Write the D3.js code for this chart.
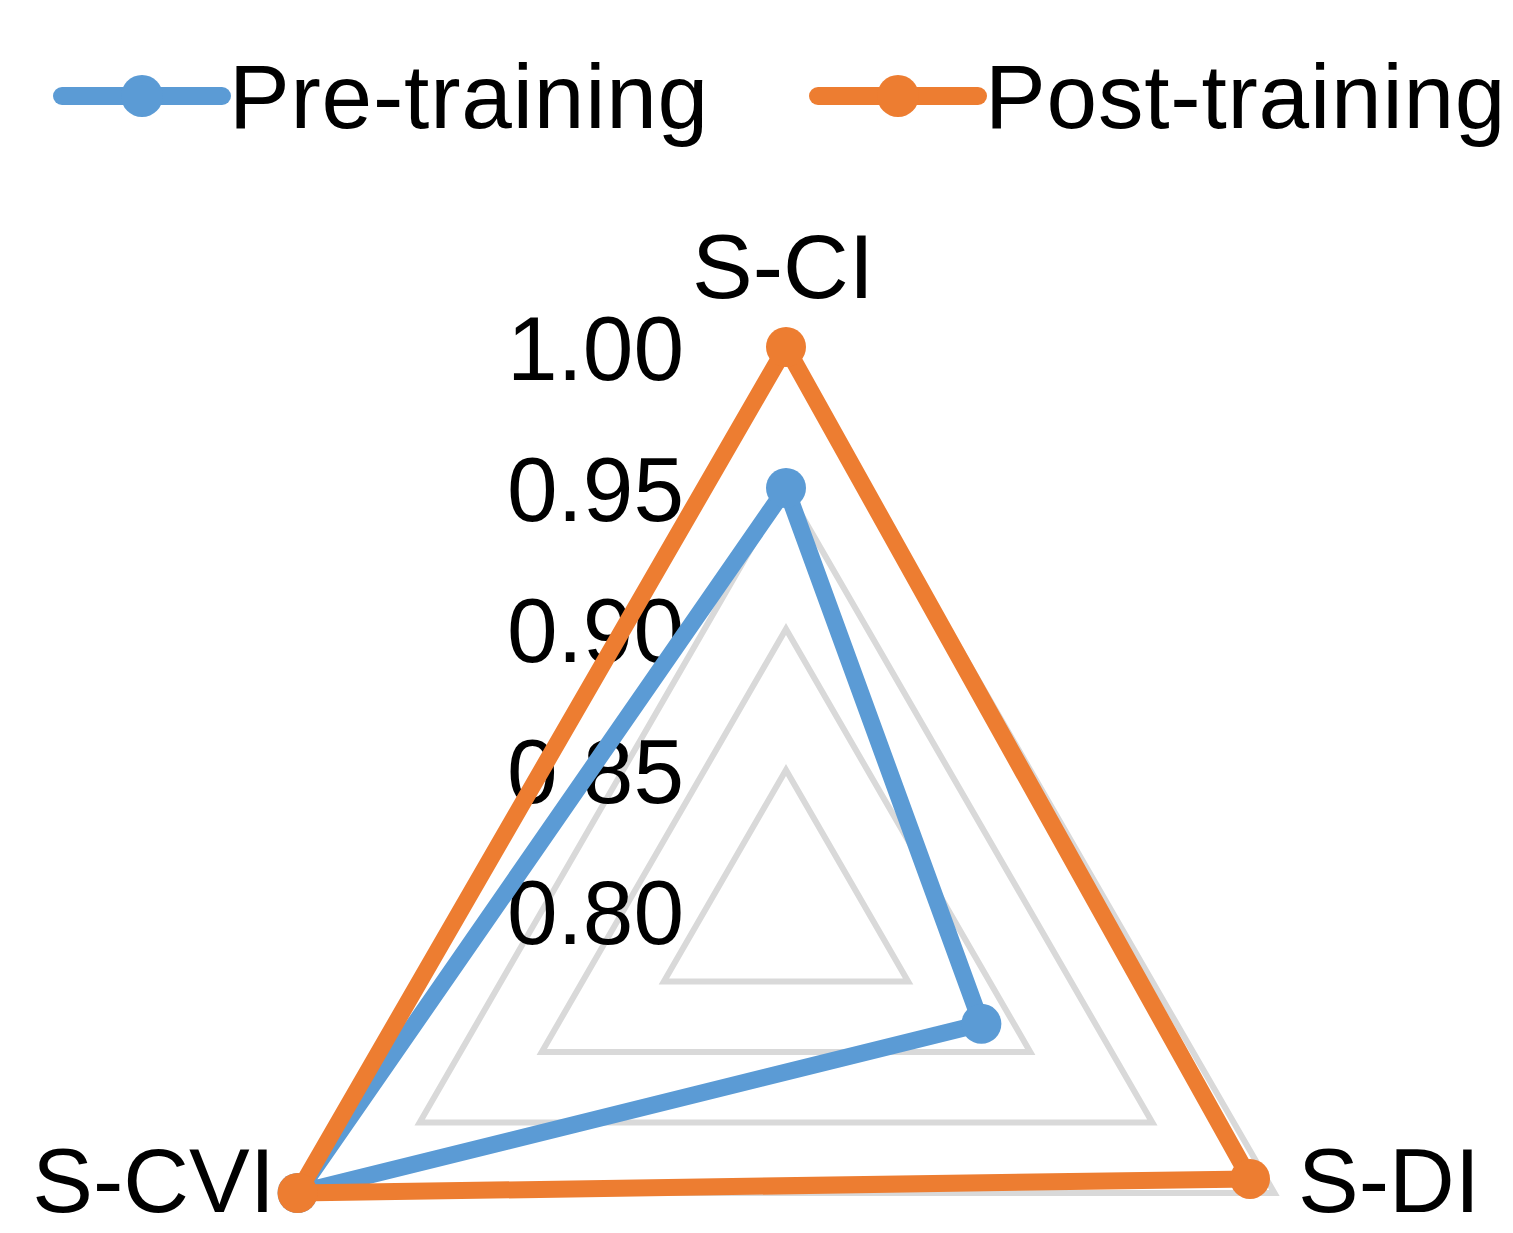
<!DOCTYPE html>
<html>
<head>
<meta charset="utf-8">
<script src="https://cdn.jsdelivr.net/npm/d3@7/dist/d3.min.js"></script>
<style>
  html, body { margin: 0; padding: 0; background: #fff; }
  svg { display: block; }
  text { font-family: "Liberation Sans", Arial, sans-serif; fill: #000; }
</style>
</head>
<body>
<svg id="chart" width="1513" height="1233"></svg>
<script>
// ---- data ----
const categories = ["S-CI", "S-DI", "S-CVI"];
const seriesNames = ["Pre-training", "Post-training"];
const preTraining = [0.95, 0.88, 1.00];
const postTraining = [1.00, 0.99, 1.00];
const tickValues = [0.80, 0.85, 0.90, 0.95, 1.00];
const tickLabels = ["0.80", "0.85", "0.90", "0.95", "1.00"];
const seriesColors = ["#5B9BD5", "#ED7D31"];

// ---- layout ----
const cx = 786, cy = 911;
const R = 564;
const fontSize = 91;

const svg = d3.select("#chart");
const r = d3.scaleLinear().domain([0.80, 1.00]).range([0, R]);
const angle = d3.scalePoint().domain(categories).range([0, 2 * Math.PI * (categories.length - 1) / categories.length]);

const g = svg.append("g").attr("transform", `translate(${cx},${cy})`);

// gridlines (polygons)
const gridLine = d3.lineRadial()
  .angle(d => angle(d.cat))
  .radius(d => r(d.v))
  .curve(d3.curveLinearClosed);

g.append("g").selectAll("path")
  .data(tickValues.filter(v => v > 0.80))
  .join("path")
  .attr("d", v => gridLine(categories.map(c => ({ cat: c, v }))))
  .attr("fill", "none")
  .attr("stroke", "#D9D9D9")
  .attr("stroke-width", 6)
  .attr("stroke-linejoin", "miter");

// tick labels
g.append("g").selectAll("text")
  .data(tickValues)
  .join("text")
  .attr("x", 684 - cx)
  .attr("y", (v) => -r(v) + 33)
  .attr("text-anchor", "end")
  .attr("font-size", fontSize)
  .text((v, i) => tickLabels[i]);

// series
const allSeries = [preTraining, postTraining];
const seriesLine = d3.lineRadial()
  .angle((d, i) => angle(categories[i]))
  .radius(d => r(d))
  .curve(d3.curveLinearClosed);

allSeries.forEach((vals, si) => {
  const sg = g.append("g");
  sg.append("path")
    .attr("d", seriesLine(vals))
    .attr("fill", "none")
    .attr("stroke", seriesColors[si])
    .attr("stroke-width", 17)
    .attr("stroke-linejoin", "round");
  sg.selectAll("circle")
    .data(vals)
    .join("circle")
    .attr("cx", (d, i) => r(d) * Math.sin(angle(categories[i])))
    .attr("cy", (d, i) => -r(d) * Math.cos(angle(categories[i])))
    .attr("r", 20)
    .attr("fill", seriesColors[si]);
});

// category labels
const catPos = {
  "S-CI":  { x: 783, y: 298, anchor: "middle" },
  "S-DI":  { x: 1298, y: 1212, anchor: "start" },
  "S-CVI": { x: 275, y: 1212, anchor: "end" }
};
svg.append("g").selectAll("text")
  .data(categories)
  .join("text")
  .attr("x", d => catPos[d].x)
  .attr("y", d => catPos[d].y)
  .attr("text-anchor", d => catPos[d].anchor)
  .attr("font-size", fontSize)
  .text(d => d);

// legend
const legendX = [62, 818];
const legend = svg.append("g").selectAll("g")
  .data(seriesNames)
  .join("g")
  .attr("transform", (d, i) => `translate(${legendX[i]},96)`);
legend.append("line")
  .attr("x1", 0).attr("x2", 160)
  .attr("y1", 0).attr("y2", 0)
  .attr("stroke", (d, i) => seriesColors[i])
  .attr("stroke-width", 18)
  .attr("stroke-linecap", "round");
legend.append("circle")
  .attr("cx", 80).attr("cy", 0).attr("r", 21)
  .attr("fill", (d, i) => seriesColors[i]);
legend.append("text")
  .attr("x", 167)
  .attr("y", 32)
  .attr("font-size", fontSize)
  .attr("letter-spacing", 0.8)
  .text(d => d);
</script>
</body>
</html>
